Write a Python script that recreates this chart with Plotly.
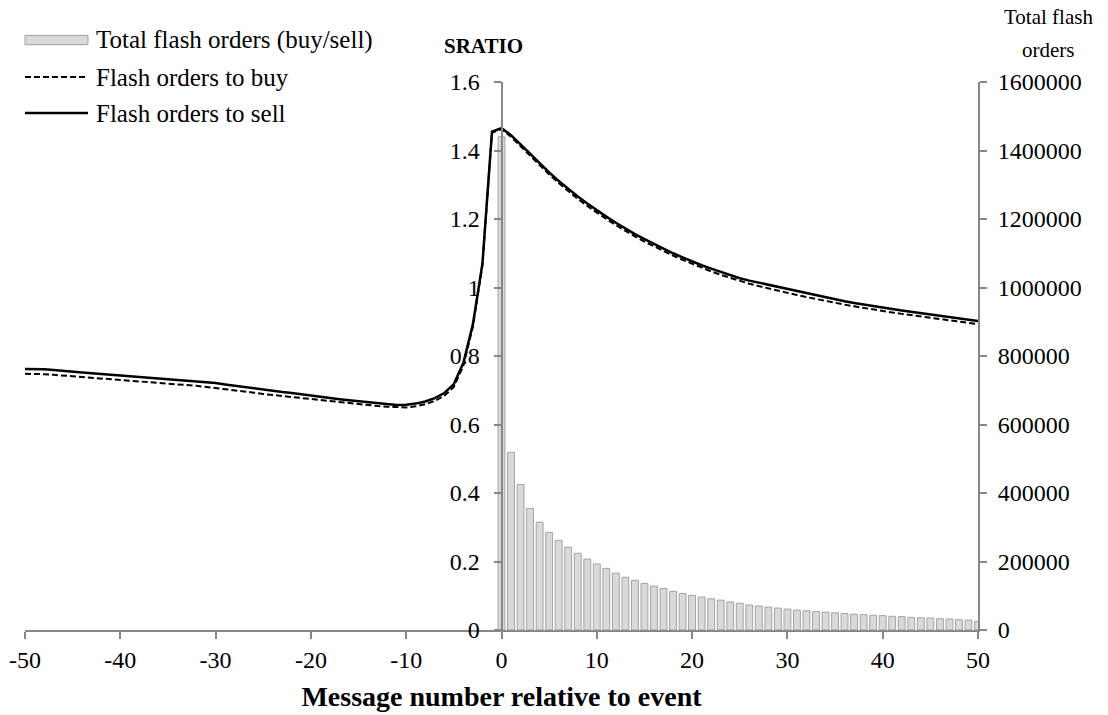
import plotly.graph_objects as go

# ---------------- data ----------------
msg_num = list(range(-50, 51))

sratio_sell = [
    0.762, 0.762, 0.761, 0.759, 0.756, 0.754, 0.752, 0.750, 0.747, 0.745,   # -50..-41
    0.743, 0.741, 0.739, 0.737, 0.734, 0.732, 0.730, 0.728, 0.726, 0.724,   # -40..-31
    0.721, 0.717, 0.713, 0.710, 0.707, 0.703, 0.699, 0.695, 0.692, 0.688,   # -30..-21
    0.684, 0.681, 0.677, 0.674, 0.671, 0.668, 0.665, 0.662, 0.660, 0.657,   # -20..-11
    0.658, 0.661, 0.667, 0.677, 0.692, 0.718, 0.780, 0.893, 1.070, 1.455,   # -10..-1
    1.465,                                                                  # 0
    1.445, 1.418, 1.390, 1.362, 1.336, 1.311, 1.288, 1.266, 1.245, 1.225,   # 1..10
    1.207, 1.189, 1.172, 1.156, 1.141, 1.127, 1.113, 1.100, 1.088, 1.076,   # 11..20
    1.065, 1.055, 1.045, 1.036, 1.027, 1.020, 1.014, 1.007, 1.000, 0.994,   # 21..30
    0.988, 0.982, 0.976, 0.970, 0.965, 0.960, 0.955, 0.950, 0.945, 0.941,   # 31..40
    0.937, 0.933, 0.929, 0.925, 0.921, 0.917, 0.913, 0.909, 0.905, 0.902,   # 41..50
]

sratio_buy = [
    0.748, 0.748, 0.747, 0.745, 0.743, 0.741, 0.739, 0.737, 0.734, 0.732,   # -50..-41
    0.730, 0.728, 0.726, 0.724, 0.721, 0.719, 0.717, 0.715, 0.713, 0.710,   # -40..-31
    0.707, 0.703, 0.699, 0.696, 0.693, 0.689, 0.686, 0.683, 0.680, 0.676,   # -30..-21
    0.673, 0.670, 0.667, 0.664, 0.661, 0.658, 0.656, 0.654, 0.652, 0.650,   # -20..-11
    0.650, 0.653, 0.659, 0.669, 0.684, 0.710, 0.772, 0.886, 1.066, 1.452,   # -10..-1
    1.462,                                                                  # 0
    1.440, 1.412, 1.384, 1.356, 1.330, 1.305, 1.281, 1.259, 1.238, 1.218,   # 1..10
    1.200, 1.182, 1.165, 1.149, 1.134, 1.120, 1.106, 1.093, 1.081, 1.069,   # 11..20
    1.058, 1.047, 1.037, 1.028, 1.019, 1.011, 1.004, 0.997, 0.990, 0.984,   # 21..30
    0.978, 0.972, 0.966, 0.960, 0.955, 0.950, 0.945, 0.940, 0.935, 0.931,   # 31..40
    0.927, 0.923, 0.919, 0.915, 0.911, 0.907, 0.903, 0.900, 0.896, 0.893,   # 41..50
]

bar_msg = list(range(0, 51))
total_flash = [
    1440000,
    519000, 425000, 355000, 315000, 285000, 262000, 242000, 224000, 207000, 193000,
    180000, 166000, 154000, 145000, 136000, 128000, 121000, 113000, 107000, 101000,
    96000, 91000, 87000, 82000, 78000, 73000, 70000, 67000, 64000, 61000,
    58000, 56000, 54000, 52000, 50000, 48000, 46000, 45000, 43000, 42000,
    40000, 39000, 37000, 36000, 35000, 33000, 32000, 30000, 29000, 25000,
]

x_tickvals = [-50, -40, -30, -20, -10, 0, 10, 20, 30, 40, 50]
x_ticktext = ["-50", "-40", "-30", "-20", "-10", "0", "10", "20", "30", "40", "50"]

legend_labels = ["Total flash orders (buy/sell)", "Flash orders to buy", "Flash orders to sell"]

# ---------------- style ----------------
FONT = "Liberation Serif, Times New Roman, serif"
FS = 24
AXC = "#878787"

fig = go.Figure()

fig.add_trace(go.Bar(
    x=bar_msg, y=total_flash, name=legend_labels[0],
    marker=dict(color="#d9d9d9", line=dict(color="#a3a3a3", width=1)),
    width=0.72, yaxis="y", showlegend=False,
))
fig.add_trace(go.Scatter(
    x=msg_num, y=sratio_buy, name=legend_labels[1], mode="lines",
    line=dict(color="black", width=2, dash="6px,3px"), yaxis="y2", showlegend=False,
))
fig.add_trace(go.Scatter(
    x=msg_num, y=sratio_sell, name=legend_labels[2], mode="lines",
    line=dict(color="black", width=2.5), yaxis="y2", showlegend=False,
))

fig.update_layout(
    width=1108, height=715,
    margin=dict(l=25, r=130, t=82, b=85),
    paper_bgcolor="white", plot_bgcolor="white",
    font=dict(family=FONT, size=FS, color="black"),
    bargap=0.3,
    xaxis=dict(
        range=[-50, 50], tickvals=x_tickvals, ticktext=x_ticktext,
        showline=True, linecolor=AXC, linewidth=2,
        ticks="outside", ticklen=7, tickcolor=AXC, tickwidth=2,
        showgrid=False, zeroline=False, automargin=False,
        title=dict(text="<b>Message number relative to event</b>", standoff=15,
                   font=dict(family=FONT, size=28)),
    ),
    yaxis=dict(
        range=[0, 1600000], dtick=200000, tickformat="d", side="right",
        showline=True, linecolor=AXC, linewidth=2,
        ticks="outside", ticklen=7, tickcolor=AXC, tickwidth=2,
        showgrid=False, zeroline=False, ticklabelstandoff=6, automargin=False,
    ),
    yaxis2=dict(
        range=[0, 1.6], dtick=0.2, overlaying="y", anchor="free", position=0.5, side="left",
        showline=True, linecolor=AXC, linewidth=2,
        ticks="outside", ticklen=7, tickcolor=AXC, tickwidth=2,
        showgrid=False, zeroline=False, ticklabelstandoff=9, automargin=False,
    ),
)

# titles placed like the original
fig.add_annotation(text="<b>SRATIO</b>", xref="paper", yref="paper", x=0.4806, y=1.0657,
                   showarrow=False, xanchor="center", yanchor="middle", font=dict(size=21))
fig.add_annotation(text="Total flash", xref="paper", yref="paper", x=1.0735, y=1.1186,
                   showarrow=False, xanchor="center", yanchor="middle", font=dict(size=21))
fig.add_annotation(text="orders", xref="paper", yref="paper", x=1.0735, y=1.0584,
                   showarrow=False, xanchor="center", yanchor="middle", font=dict(size=21))

# legend drawn at top-left
leg_x0, leg_x1, leg_tx = 0.0, 0.0661, 0.0728
leg_y = [1.0766, 1.0091, 0.9434]
fig.add_shape(type="rect", xref="paper", yref="paper", x0=leg_x0, x1=leg_x1,
              y0=leg_y[0] - 0.0085, y1=leg_y[0] + 0.0085,
              fillcolor="#d9d9d9", line=dict(color="#a3a3a3", width=1))
fig.add_shape(type="line", xref="paper", yref="paper", x0=leg_x0, x1=leg_x1,
              y0=leg_y[1], y1=leg_y[1], line=dict(color="black", width=2, dash="6px,3px"))
fig.add_shape(type="line", xref="paper", yref="paper", x0=leg_x0, x1=leg_x1,
              y0=leg_y[2], y1=leg_y[2], line=dict(color="black", width=2.5))
for lbl, yy in zip(legend_labels, leg_y):
    fig.add_annotation(text=lbl, xref="paper", yref="paper", x=leg_tx, y=yy,
                       showarrow=False, xanchor="left", yanchor="middle", font=dict(size=25))

fig.write_html("out.html")
